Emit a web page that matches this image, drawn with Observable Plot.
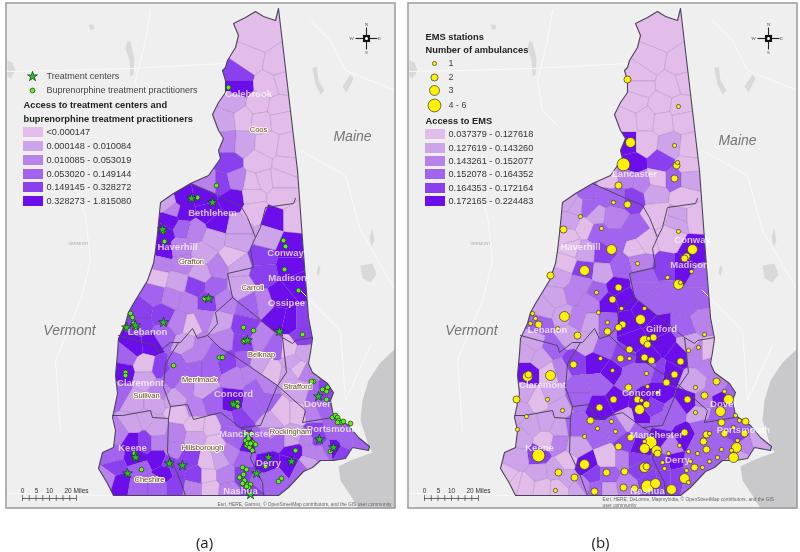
<!DOCTYPE html>
<html><head><meta charset="utf-8">
<script src="https://cdn.jsdelivr.net/npm/d3@7"></script>
<script src="https://cdn.jsdelivr.net/npm/@observablehq/plot@0.6"></script>
<style>
html,body{margin:0;padding:0;background:#fff}
#row{display:flex;width:800px;height:552px;overflow:hidden}
#row svg{display:block;filter:blur(.35px)}
</style></head><body><div id="row"></div>
<script>
// Shades of the six classes, lightest to darkest
const classColors = ["#e2bdea","#cda3ea","#b981ec","#a263ee","#8a40ef","#6c0eec"];

// Map geometry, in map units
const stateOutline = [[278,8],[275,20],[263,16],[255,11],[245,17],[233,23],[238,35],[235,47],[227,60],[225,67],[222,70],[225,80],[225,92],[218,102],[212,114],[218,130],[223,138],[218,150],[220,158],[208,175],[190,183],[173,193],[160,202],[158,223],[157,233],[155,250],[153,263],[147,280],[133,303],[128,312],[125,323],[118,338],[117,353],[115,375],[117,393],[112,417],[115,430],[113,447],[102,452],[98,468],[107,483],[113,495],[263,495],[278,495],[288,487],[303,471],[312,467],[320,460],[333,460],[345,458],[352,447],[368,450],[369,446],[358,437],[348,425],[333,415],[330,400],[333,392],[327,383],[312,372],[308,363],[310,352],[312,338],[308,317],[303,253],[297,170]];
const countyLines = [
 [[190,183],[217,195],[240,205],[247,217],[255,237],[260,227],[265,207],[293,203],[295,198]],
 [[255,237],[250,248],[253,267],[227,273],[232,297],[282,337],[292,343],[295,340],[312,337]],
 [[118,335],[155,345],[157,352],[170,342],[180,342],[192,328],[197,338],[207,335],[217,323],[215,312],[232,297]],
 [[178,342],[165,363],[163,387],[170,406],[187,404],[193,419],[220,412],[240,427],[260,425],[277,385]],
 [[112,415],[122,415],[150,410],[152,417],[168,418],[170,406]],
 [[168,418],[167,452],[177,473],[185,495]],
 [[240,427],[250,432],[252,448],[250,458],[262,482],[263,495]],
 [[207,335],[220,348],[233,355],[277,385],[286,372],[282,337]],
 [[277,385],[305,410],[302,422],[332,417]]
];
const ocean = [[395,348],[380,362],[368,380],[362,400],[360,420],[368,445],[372,452],[350,460],[338,466],[340,480],[350,495],[358,508],[395,508]];
const lakes = [
 [[7,60],[12,62],[15,70],[10,78],[7,76]],
 [[127,40],[130,42],[134,58],[133,74],[130,76],[129,60],[125,48]],
 [[88,24],[93,24],[94,28],[90,30]],
 [[312,68],[316,66],[318,80],[324,90],[320,94],[315,84]],
 [[360,265],[372,263],[376,274],[370,282],[362,278]],
 [[318,264],[320,268],[318,276],[316,272]],
 [[342,86],[350,74],[353,78],[346,92]],
 [[372,228],[374,240],[371,246],[369,236]]
];
const faintRoads = [
 [[6,71],[60,70],[130,68],[225,63]],
 [[6,493],[113,495]],
 [[150,10],[145,40],[135,80],[140,110],[155,125]],
 [[72,180],[85,215],[90,260],[80,300],[55,360],[60,430]],
 [[310,20],[330,40],[345,70],[395,90]],
 [[300,150],[345,175],[360,230],[395,290]],
 [[300,290],[340,330],[345,400],[370,345]],
 [[60,120],[80,170],[72,180]]
];

// Panel (a): towns [x, y, class]
const townsA = [
[258,35,0],[248,60,0],[238,75,4],[238,86,5],[268,84,0],[282,80,0],[278,65,0],
[233,102,1],[258,105,0],[278,108,0],[225,120,1],[243,118,0],[260,120,0],[280,118,0],
[228,142,2],[242,143,1],[267,145,0],[287,148,0],[228,162,4],[258,162,0],[285,165,0],
[208,183,2],[222,183,4],[235,180,2],[253,183,0],[263,180,0],[280,178,0],[232,198,5],[253,195,0],[280,197,0],[255,210,0],[273,217,5],[293,217,0],
[183,198,5],[203,195,5],[167,202,1],[173,210,2],[183,213,5],[207,212,5],[170,220,5],[182,227,3],[195,230,2],[217,223,5],[213,237,1],[237,227,1],[237,240,1],
[163,233,5],[163,250,5],[180,248,2],[160,263,2],[182,263,2],[203,253,1],[217,267,2],[200,273,1],[232,257,0],[238,265,1],
[157,277,0],[177,282,1],[195,286,4],[214,287,3],[153,293,3],[172,297,2],[188,302,2],[207,302,4],[223,300,2],
[140,310,4],[163,315,4],[190,325,0],[205,318,2],[178,322,2],[140,325,4],[163,335,3],[133,345,5],[150,343,5],
[240,287,1],[263,303,2],[267,237,1],[262,257,4],[290,247,5],[263,272,4],[290,267,5],[280,297,5],[297,283,5],[277,317,5],[290,320,5],[302,320,4],[302,337,4],[250,305,3],
[217,322,1],[223,340,2],[245,328,4],[242,342,4],[260,338,2],[275,347,3],[272,372,0],[257,363,1],[243,360,3],
[292,362,1],[288,348,0],[303,352,1],[288,375,1],[297,368,0],[307,373,2],[302,390,1],[313,393,3],[325,392,4],[312,413,2],[323,408,3],[333,398,4],
[170,378,3],[177,365,3],[192,355,2],[185,343,1],[202,345,2],[215,352,3],[228,362,4],[195,368,3],[208,368,3],[235,375,2],[248,372,2],[258,388,3],[185,387,2],[202,388,1],[175,398,1],[195,407,2],[212,402,3],[232,402,5],[238,417,4],[227,420,3],[252,405,3],[262,400,3],[263,385,2],
[125,355,3],[122,372,5],[145,365,0],[160,368,4],[145,378,1],[118,392,3],[135,402,1],[152,402,1],[160,388,2],
[132,423,1],[145,418,1],[157,428,1],[118,433,2],[132,442,5],[143,442,4],[158,442,2],[112,455,3],[135,458,5],[158,458,5],[168,462,4],[115,467,4],[138,468,3],[165,472,5],[107,478,2],[120,482,5],[138,485,3],[157,485,3],[175,485,4],
[178,413,0],[175,433,2],[195,425,0],[212,427,0],[215,442,0],[195,437,1],[173,450,2],[188,458,4],[175,468,4],[195,475,4],[208,462,0],[218,460,1],[232,452,2],[238,442,3],[207,475,0],[210,488,0],[192,488,2],[225,475,2],[227,490,2],[243,475,4],[243,457,3],[228,432,3],[245,445,5],[252,488,4],
[282,415,0],[297,415,0],[273,423,1],[290,438,1],[263,442,3],[277,438,3],[307,437,2],[318,438,4],[333,447,5],[347,442,3],[333,432,3],[357,442,3],[267,462,5],[293,452,5],[290,463,5],[310,452,2],[320,452,2],[307,462,1],[273,478,3],[257,482,3],[327,448,3],[313,432,4],[293,433,1],[273,432,2],[343,453,4],[300,468,3],[343,435,3]
];
// Panel (b): towns [x, y, class]
const townsB = [
[258,35,0],[248,60,0],[238,75,0],[238,86,0],[268,84,0],[282,80,0],[278,65,0],
[233,102,0],[258,105,0],[278,108,0],[225,120,0],[243,118,0],[260,120,0],[280,118,0],
[225,143,5],[242,143,0],[268,146,1],[287,148,0],[230,163,5],[259,162,4],[285,165,0],
[205,180,0],[226,178,2],[238,182,2],[256,178,0],[271,178,3],[286,178,1],[230,197,4],[253,193,1],[281,197,0],[255,213,0],[276,217,1],[293,217,0],
[185,190,3],[203,195,3],[215,197,3],[166,202,1],[173,207,1],[186,208,3],[211,217,2],[168,220,1],[183,227,0],[193,215,1],[195,232,3],[231,230,3],[211,240,3],[241,243,0],[165,237,0],[168,247,0],[183,252,1],[163,263,0],[181,270,4],[201,253,4],[218,267,3],[200,272,1],[235,247,0],[238,262,2],
[158,277,1],[178,283,2],[195,292,3],[215,287,5],[155,297,1],[171,293,2],[188,303,2],[206,302,5],[221,297,5],
[141,310,1],[161,315,1],[175,318,2],[188,322,1],[205,322,3],[138,322,3],[165,335,1],[131,342,1],[150,347,3],
[241,287,3],[251,303,3],[268,237,0],[275,220,1],[263,267,4],[241,277,3],[291,250,5],[281,267,5],[298,277,3],[265,293,3],[285,303,3],[298,297,3],[281,327,3],[300,320,2],
[225,323,5],[231,340,5],[255,327,5],[262,343,5],[275,353,5],[245,357,5],[265,373,5],[242,314,5],
[285,343,1],[295,353,2],[305,353,0],[291,383,1],[308,363,2],[300,400,2],[315,387,2],[320,397,5],[328,393,3],[315,417,3],[326,413,3],
[171,363,4],[185,342,1],[201,348,3],[195,362,5],[208,372,5],[221,355,4],[230,375,3],[245,368,3],[258,372,4],[175,387,3],[198,383,3],[175,398,3],[198,407,5],[215,398,5],[225,383,3],[238,400,5],[238,417,5],[225,420,1],[258,393,5],[251,407,4],
[125,352,1],[125,373,5],[148,373,0],[138,357,1],[158,370,2],[122,393,1],[135,400,0],[150,393,1],[158,407,1],[118,410,1],
[130,425,1],[143,422,1],[156,428,1],[118,438,1],[143,440,0],[135,455,4],[156,443,2],[116,458,1],[111,482,0],[106,478,0],[123,485,0],[140,487,0],[136,472,1],[153,470,1],[165,460,0],[165,478,1],[176,488,1],[156,488,0],
[173,425,3],[173,447,1],[196,432,3],[213,428,3],[183,465,5],[190,475,4],[206,458,0],[220,458,2],[180,485,2],[193,488,3],[206,475,3],[206,488,1],[223,485,2],[233,458,4],[238,467,4],[248,480,4],[235,447,5],[225,443,4],[238,428,3],
[283,437,5],[268,447,2],[258,420,3],[271,410,3],[285,400,5],[298,413,1],[301,427,3],[318,427,3],[335,417,3],[295,443,3],[311,443,3],[328,447,3],[335,437,4],[341,445,2],[358,440,1],[336,457,1],[308,460,3],[291,463,3],[271,460,5],[261,463,4],[261,477,4],[275,477,4],[288,480,3],[255,437,5]
];

// Panel (a): practitioners and treatment centers
const practitioners = [[228,87],[216,185],[197,197],[191,198],[162,229],[163,231],[164,241],[283,240],[285,246],[284,269],[298,290],[302,334],[204,298],[243,327],[253,330],[130,313],[132,317],[133,323],[136,327],[243,341],[244,340],[219,357],[222,357],[173,365],[125,372],[125,375],[232,403],[237,402],[237,406],[313,381],[311,381],[322,389],[327,387],[326,391],[326,399],[332,417],[335,415],[337,417],[338,420],[341,422],[337,422],[343,421],[350,423],[319,439],[330,451],[295,450],[281,478],[278,481],[265,466],[245,433],[251,433],[245,440],[248,438],[252,442],[255,444],[246,445],[249,447],[252,450],[247,443],[250,443],[242,467],[246,469],[243,474],[239,477],[244,480],[242,483],[247,484],[250,484],[248,487],[246,486],[134,453],[136,457],[141,469]];
const treatmentCenters = [[191,198],[212,202],[162,229],[208,298],[279,331],[163,322],[126,327],[135,325],[247,340],[233,404],[318,396],[319,439],[333,447],[291,461],[268,457],[256,473],[250,494],[135,457],[127,473],[169,463],[182,465]];

// Panel (b): EMS stations [x, y, ambulance class 1..4]
const stations = [[225,79,2],[276,106,1],[272,145,1],[228,142,3],[221,164,4],[275,162,1],[274,165,2],[272,178,2],[216,185,2],[211,202,1],[225,204,2],[178,216,1],[199,228,1],[161,229,2],[276,231,1],[209,249,3],[290,249,3],[284,256,2],[282,258,2],[235,263,1],[182,270,3],[148,275,2],[265,277,1],[289,271,1],[276,284,3],[278,282,1],[194,292,1],[216,287,2],[210,299,2],[219,308,1],[242,308,1],[196,312,1],[162,316,3],[238,319,3],[205,322,1],[220,324,2],[216,327,2],[205,331,2],[130,313,1],[133,318,1],[128,323,1],[136,324,2],[155,328,1],[175,335,2],[242,340,3],[245,344,2],[246,338,1],[251,337,2],[302,334,1],[286,350,1],[296,347,1],[227,349,2],[198,358,1],[218,358,2],[227,358,1],[242,357,2],[249,360,2],[278,361,2],[171,364,2],[210,370,1],[244,373,1],[272,374,2],[148,375,3],[125,376,3],[126,374,2],[264,382,2],[314,381,2],[293,387,1],[226,387,2],[245,386,1],[255,392,1],[322,391,1],[302,395,2],[114,399,2],[145,399,1],[235,399,2],[239,400,1],[211,399,2],[285,399,2],[326,399,3],[244,404,2],[197,407,2],[237,409,3],[160,410,1],[293,412,1],[318,411,3],[124,416,1],[333,415,1],[337,420,1],[343,421,2],[188,420,2],[209,421,1],[319,422,2],[331,427,1],[115,429,1],[195,428,1],[213,431,1],[322,433,2],[342,433,2],[304,434,2],[307,433,1],[282,432,2],[228,437,2],[182,436,1],[248,442,4],[242,441,1],[301,441,2],[335,440,1],[277,445,1],[242,448,3],[216,446,2],[304,449,2],[334,447,3],[254,450,3],[255,453,2],[286,451,1],[319,449,1],[329,450,1],[136,455,4],[266,453,1],[295,453,1],[331,457,3],[315,457,1],[307,461,1],[260,462,1],[182,464,3],[288,461,1],[242,467,3],[244,466,2],[262,468,1],[292,467,2],[300,467,1],[156,472,2],[204,472,2],[222,471,2],[284,470,1],[172,477,2],[282,478,3],[286,482,1],[253,483,3],[245,486,4],[221,487,2],[232,488,2],[153,490,1],[192,491,2],[269,489,3]];

// Text
const townLabelsA = [["Colebrook",248,93],["Bethlehem",212,212],["Haverhill",177,246],["Conway",285,252],["Madison",287,277],["Ossipee",286,302],["Lebanon",147,331],["Claremont",140,382],["Concord",233,393],["Dover",317,403],["Portsmouth",333,428],["Manchester",245,433],["Keene",132,447],["Derry",268,462],["Nashua",240,490]];
const townLabelsB = [["Lancaster",232,173],["Haverhill",178,246],["Conway",290,239],["Madison",287,264],["Gilford",259,328],["Lebanon",145,329],["Claremont",140,384],["Concord",239,392],["Dover",321,403],["Portsmouth",341,429],["Manchester",254,434],["Keene",137,447],["Derry",275,459],["Nashua",245,490]];
const countyLabels = [["Coos",258,129],["Grafton",191,261],["Carroll",252,287],["Belknap",261,354],["Merrimack",199,379],["Sullivan",146,395],["Strafford",297,386],["Rockingham",290,431],["Hillsborough",202,447],["Cheshire",149,479]];
const legendRangesA = ["<0.000147","0.000148 - 0.010084","0.010085 - 0.053019","0.053020 - 0.149144","0.149145 - 0.328272","0.328273 - 1.815080"];
const legendRangesB = ["0.037379 - 0.127618","0.127619 - 0.143260","0.143261 - 0.152077","0.152078 - 0.164352","0.164353 - 0.172164","0.172165 - 0.224483"];
const ambulanceLabels = ["1","2","3","4 - 6"];
const scaleMiles = [["0",22],["5",36],["10",49],["20 Miles",76]];

const FONT = "Liberation Sans, Arial, sans-serif";
const ring = (x1,y1,x2,y2) => [[x1,y1],[x2,y1],[x2,y2],[x1,y2],[x1,y1]];
const hole = [...stateOutline, stateOutline[0]];
const polyFeature = rings => ({type:"Polygon", coordinates:rings});

function panel({shift, towns, marks}) {
  const W = 400, H = 552;
  const cell = Plot.voronoi(towns, {x:d=>d[0], y:d=>d[1], z:null, fill:d=>d[2], stroke:"#5b3a80", strokeWidth:.5, strokeOpacity:.32});
  return Plot.plot({
    width:W, height:H, margin:0,
    style:{background:"#fff", fontFamily:FONT},
    x:{domain:[-shift, W-shift], range:[0,W], axis:null},
    y:{domain:[0,H], range:[0,H], axis:null},
    color:{type:"ordinal", domain:[0,1,2,3,4,5], range:classColors},
    r:{type:"linear", domain:[1,4], range:[2.1,6.4]},
    marks:[
      cell,
      Plot.geo([polyFeature([ring(-10,-10,410,562), hole])], {fill:"#fff"}),
      Plot.geo([polyFeature([ring(6,3,395,508), hole])], {fill:"#efefef"}),
      Plot.geo([polyFeature([ocean.concat([ocean[0]])])], {fill:"#c9c9cc"}),
      Plot.geo(lakes.map(l=>polyFeature([l.concat([l[0]])])), {fill:"#d9d9db"}),
      faintRoads.map(r=>Plot.line(r,{x:d=>d[0],y:d=>d[1],stroke:"#fafafa",strokeWidth:1})),
      countyLines.map(l=>Plot.line(l,{x:d=>d[0],y:d=>d[1],stroke:"#4f4560",strokeWidth:1})),
      Plot.line(hole,{x:d=>d[0],y:d=>d[1],stroke:"#4a4258",strokeWidth:1.1}),
      Plot.rect([0],{x1:6,x2:395,y1:3,y2:508,stroke:"#9a9a9a",strokeWidth:1.5,fill:"none"}),
      marks,
      // compass
      Plot.link([[355,38,377,38],[366,27,366,49]],{x1:d=>d[0],y1:d=>d[1],x2:d=>d[2],y2:d=>d[3],stroke:"#222",strokeWidth:1.1}),
      Plot.dot([[366,38]],{x:d=>d[0],y:d=>d[1],r:4,fill:"#111",symbol:"square"}),
      Plot.dot([[366,38]],{x:d=>d[0],y:d=>d[1],r:1.5,fill:"#fff"}),
      Plot.text([["N",366,24],["S",366,52],["W",351,38],["E",379,38]],{x:d=>d[1],y:d=>d[2],text:d=>d[0],fontSize:5,fill:"#444",fontFamily:"Liberation Serif"}),
      // scale bar
      Plot.text(scaleMiles,{x:d=>d[1],y:490,text:d=>d[0],fontSize:6.5,fill:"#333",textAnchor:"middle"}),
      Plot.ruleY([498],{x1:22,x2:76,stroke:"#444",strokeWidth:.8}),
      Plot.ruleX(d3.range(9).map(i=>22+i*6.75),{y1:495,y2:501,stroke:"#444",strokeWidth:.7}),
      Plot.text(["Vermont"],{x:69,y:330,fontSize:14,fontStyle:"italic",fill:"#757575"}),
      Plot.text(["VERMONT"],{x:78,y:243,fontSize:4,fill:"#aaa"})
    ]
  });
}

function townText(labels){
  return Plot.text(labels,{x:d=>d[1],y:d=>d[2],text:d=>d[0],fontSize:9.5,fontWeight:"bold",fill:"#fff",fillOpacity:.72});
}
function legendSwatches(ranges, ys){
  return [
    Plot.rect(ranges,{x1:23,x2:43,y1:(d,i)=>ys[i]-5,y2:(d,i)=>ys[i]+5,fill:(d,i)=>i}),
    Plot.text(ranges,{x:46,y:(d,i)=>ys[i],text:d=>d,textAnchor:"start",fontSize:9.2,fill:"#333"})
  ];
}

const row = document.getElementById("row");

row.append(panel({shift:0, towns:townsA, marks:[
  Plot.dot(practitioners,{x:d=>d[0],y:d=>d[1],r:2.4,fill:"#5fee17",stroke:"#1c3a1c",strokeWidth:.7}),
  Plot.dot(treatmentCenters,{x:d=>d[0],y:d=>d[1],r:3.1,symbol:"star",fill:"#2bbd2b",stroke:"#123312",strokeWidth:.7}),
  townText(townLabelsA),
  Plot.text(countyLabels,{x:d=>d[1],y:d=>d[2],text:d=>d[0],fontSize:7.5,fill:"#5a4a3a",stroke:"#fdf6e6",strokeWidth:2}),
  Plot.text(["Maine"],{x:352,y:136,fontSize:14,fontStyle:"italic",fill:"#757575"}),
  Plot.dot([[32,76]],{x:d=>d[0],y:d=>d[1],r:3.1,symbol:"star",fill:"#2bbd2b",stroke:"#123312",strokeWidth:.7}),
  Plot.dot([[32,90]],{x:d=>d[0],y:d=>d[1],r:2.4,fill:"#5fee17",stroke:"#1c3a1c",strokeWidth:.7}),
  Plot.text([["Treatment centers",76],["Buprenorphine treatment practitioners",90]],{x:46,y:d=>d[1],text:d=>d[0],textAnchor:"start",fontSize:9,fill:"#444"}),
  Plot.text([["Access to treatment centers and",105],["buprenorphine treatment practitioners",119]],{x:23,y:d=>d[1],text:d=>d[0],textAnchor:"start",fontSize:9.3,fontWeight:"bold",fill:"#222"}),
  legendSwatches(legendRangesA,[132,146,160,174,187,201]),
  Plot.text(["Esri, HERE, Garmin, © OpenStreetMap contributors, and the GIS user community"],{x:391,y:504,textAnchor:"end",fontSize:4.8,fill:"#666"}),
  Plot.text(["(a)"],{x:204,y:543,fontSize:15,fill:"#222",fontFamily:"Open Sans"})
]}));

row.append(panel({shift:2, towns:townsB, marks:[
  Plot.dot(stations,{x:d=>d[0],y:d=>d[1],r:d=>d[2],fill:"#fff200",stroke:"#333",strokeWidth:.7}),
  townText(townLabelsB),
  Plot.text(["Maine"],{x:335,y:140,fontSize:14,fontStyle:"italic",fill:"#757575"}),
  Plot.text([["EMS stations",37],["Number of ambulances",50],["Access to EMS",121]],{x:23,y:d=>d[1],text:d=>d[0],textAnchor:"start",fontSize:9.3,fontWeight:"bold",fill:"#222"}),
  Plot.dot(ambulanceLabels,{x:32,y:(d,i)=>[63,77,90,105][i],r:(d,i)=>i+1,fill:"#fff200",stroke:"#333",strokeWidth:.7}),
  Plot.text(ambulanceLabels,{x:46,y:(d,i)=>[63,77,90,105][i],text:d=>d,textAnchor:"start",fontSize:9,fill:"#444"}),
  legendSwatches(legendRangesB,[134,148,161,174,188,201]),
  Plot.text(["Esri, HERE, DeLorme, MapmyIndia, © OpenStreetMap contributors, and the GIS","user community"],{x:200,y:(d,i)=>[499,505][i],textAnchor:"start",fontSize:4.8,fill:"#666"}),
  Plot.text(["(b)"],{x:198,y:543,fontSize:15,fill:"#222",fontFamily:"Open Sans"})
]}));
</script></body></html>
